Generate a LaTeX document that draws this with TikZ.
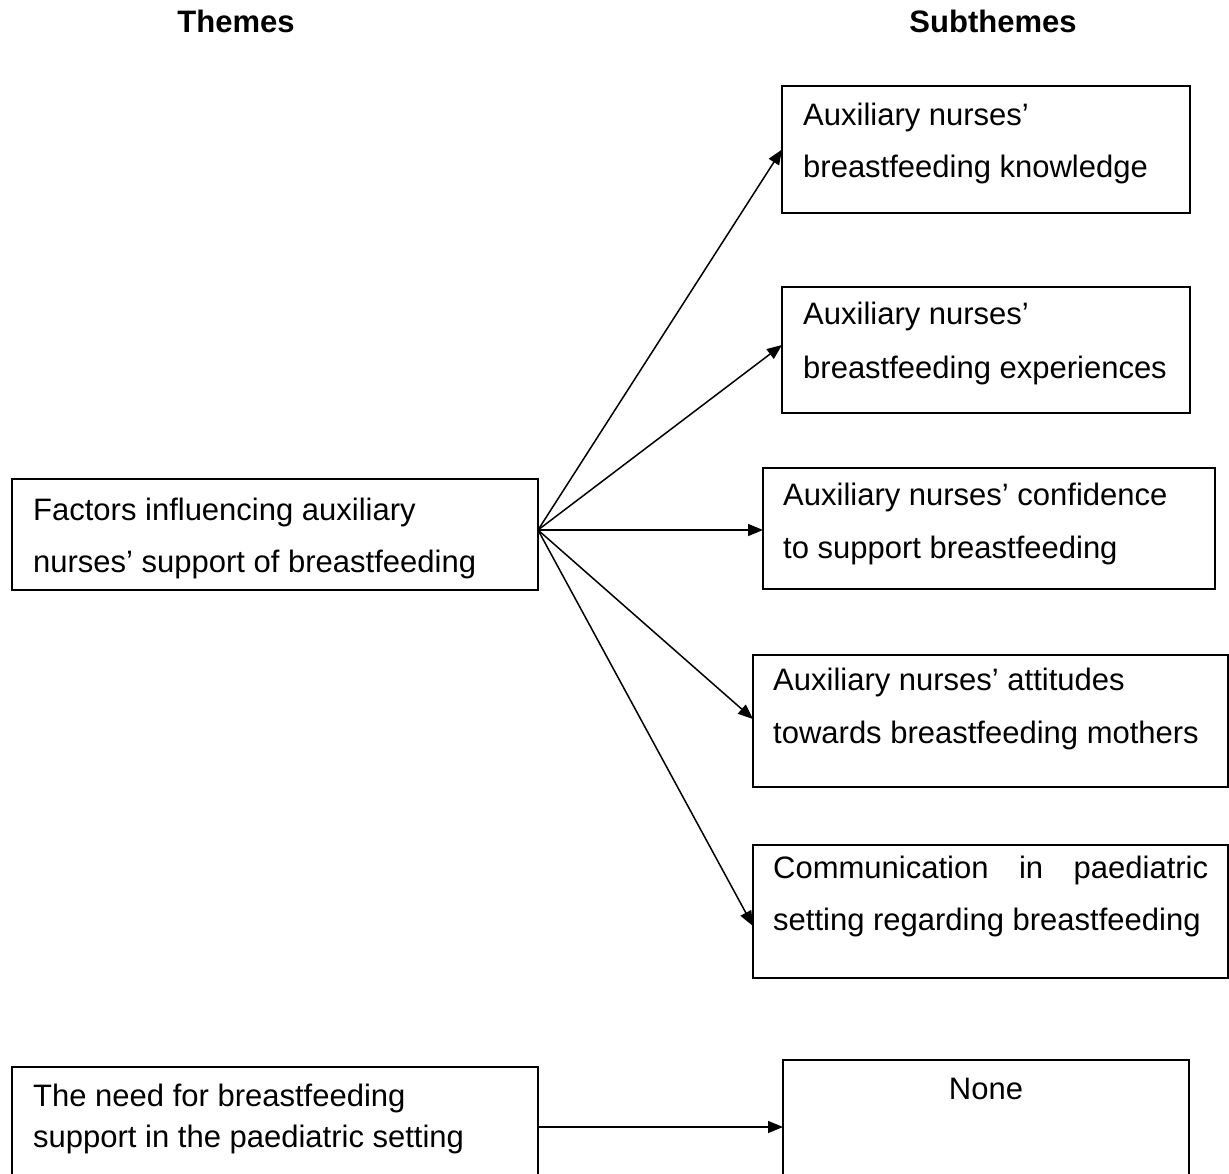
\documentclass[tikz,border=0pt]{standalone}
\usepackage{fontspec}
\setmainfont{Liberation Sans}
\usetikzlibrary{arrows.meta}
\tikzset{
  box/.style={draw=black, line width=1.8pt, rectangle, anchor=north west, inner sep=0pt, outer sep=0pt},
  txt/.style={anchor=base west, inner sep=0pt, font=\fontsize{31}{37}\selectfont},
  ctxt/.style={anchor=base, inner sep=0pt, font=\fontsize{31}{37}\selectfont},
  head/.style={anchor=base, inner sep=0pt, font=\fontsize{31}{37}\selectfont\bfseries},
  arr/.style={line width=1.5pt, -{Triangle[length=15pt,width=12pt]}},
}
\begin{document}
\begin{tikzpicture}[x=1pt,y=-1pt]
\useasboundingbox (0,0) rectangle (1229,1174);
\fill[white] (0,0) rectangle (1229,1174);
\clip (0,0) rectangle (1229,1174);

% headers
\node[head] (h1) at (236,33) {Themes};
\node[head] (h2) at (993,33) {Subthemes};

% boxes
\node[box, minimum width=526pt, minimum height=111pt] (main) at (12,479) {};
\node[box, minimum width=408pt, minimum height=127pt] (sub1) at (782,86) {};
\node[box, minimum width=408pt, minimum height=126pt] (sub2) at (782,287) {};
\node[box, minimum width=452pt, minimum height=121pt] (sub3) at (763,468) {};
\node[box, minimum width=475pt, minimum height=132pt] (sub4) at (753,655) {};
\node[box, minimum width=475pt, minimum height=133pt] (sub5) at (753,845) {};
\node[box, minimum width=526pt, minimum height=120pt] (theme2) at (12,1067) {};
\node[box, minimum width=406pt, minimum height=134pt] (none) at (783,1060) {};

% texts
\node[txt] (m1) at (33,520) {Factors influencing auxiliary};
\node[txt] (m2) at (33,572) {nurses’ support of breastfeeding};
\node[txt] (a1) at (803,126) {Auxiliary nurses’};
\node[txt] (a2) at (803,178) {breastfeeding knowledge};
\node[txt] (b1) at (803,325) {Auxiliary nurses’};
\node[txt] (b2) at (803,378) {breastfeeding experiences};
\node[txt] (c1) at (783,505) {Auxiliary nurses’ confidence};
\node[txt] (c2) at (783,558) {to support breastfeeding};
\node[txt] (d1) at (773,690) {Auxiliary nurses’ attitudes};
\node[txt] (d2) at (773,743) {towards breastfeeding mothers};
\node[txt] (e1) at (773,878) {\makebox[435pt][s]{Communication in paediatric}};
\node[txt] (e2) at (773,930) {setting regarding breastfeeding};
\node[txt] (t1) at (33,1106) {The need for breastfeeding};
\node[txt] (t2) at (33,1147) {support in the paediatric setting};
\node[ctxt] (n1) at (986,1099) {None};

% connectors
\draw[arr] ([yshift=4.5pt]main.east) -- (sub1.west);
\draw[arr] ([yshift=4.5pt]main.east) -- ([yshift=5pt]sub2.west);
\draw[arr] ([yshift=4.5pt]main.east) -- ([yshift=-1.5pt]sub3.west);
\draw[arr] ([yshift=4.5pt]main.east) -- ([yshift=2pt]sub4.west);
\draw[arr] ([yshift=4.5pt]main.east) -- ([yshift=-14.5pt]sub5.west);
\draw[arr] (theme2.east) -- (none.west);
\end{tikzpicture}
\end{document}
